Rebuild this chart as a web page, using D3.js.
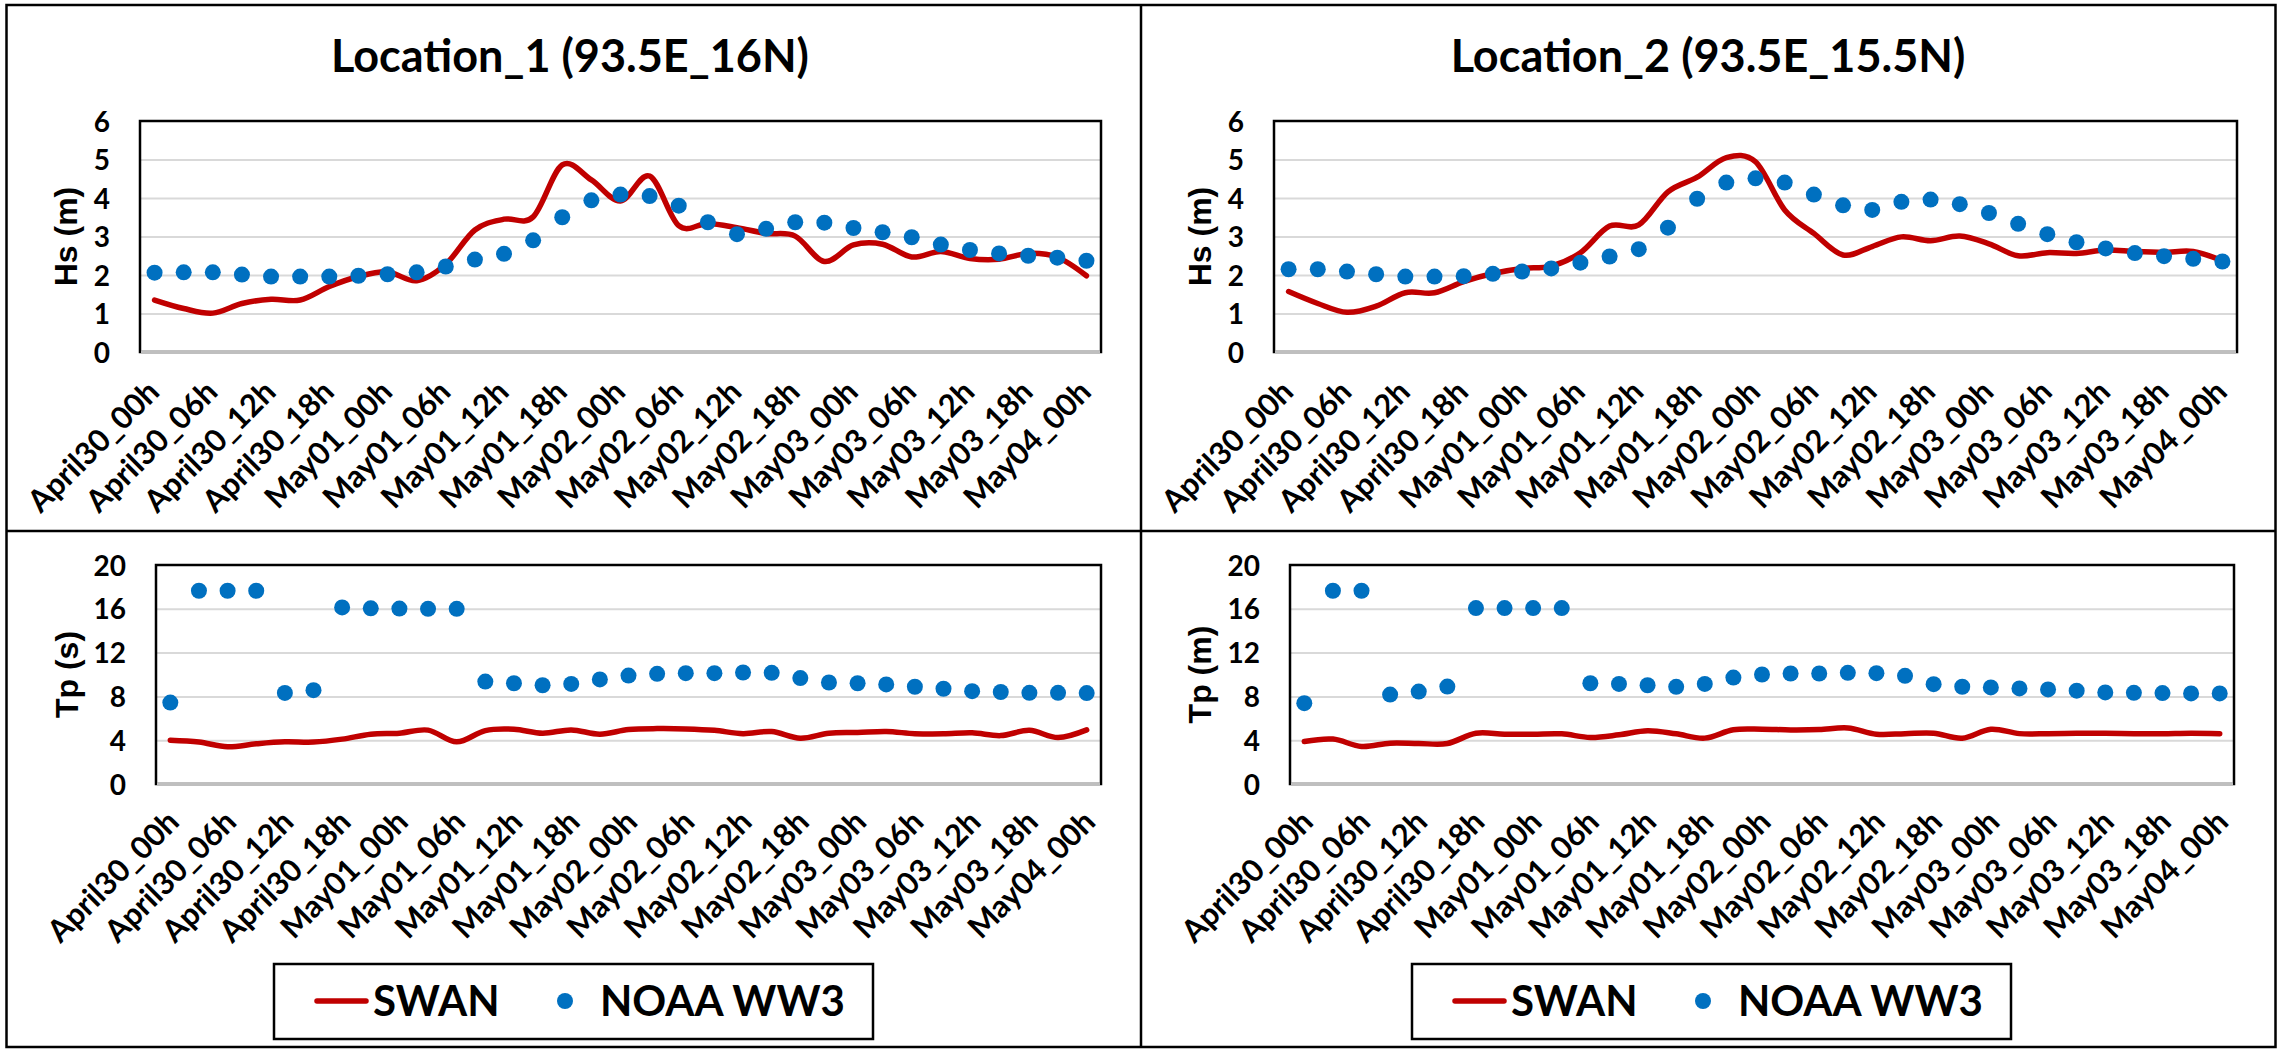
<!DOCTYPE html>
<html>
<head>
<meta charset="utf-8">
<script src="https://cdn.jsdelivr.net/npm/d3@7"></script>
<style>
	body { margin: 0; background: #fff; }
	svg { display: block; }
	.cal { font-family: Lato, "Noto Sans", sans-serif; font-weight: 700; fill: #000; }
	.ari { font-family: "Liberation Sans", Arial, sans-serif; font-weight: 700; fill: #000; }
</style>
</head>
<body>
<svg id="chart" width="2277" height="1049"></svg>
<script>
// 3-hourly time steps (categories)
var times = [
	"April30_00h","April30_03h","April30_06h","April30_09h","April30_12h","April30_15h","April30_18h","April30_21h",
	"May01_00h","May01_03h","May01_06h","May01_09h","May01_12h","May01_15h","May01_18h","May01_21h",
	"May02_00h","May02_03h","May02_06h","May02_09h","May02_12h","May02_15h","May02_18h","May02_21h",
	"May03_00h","May03_03h","May03_06h","May03_09h","May03_12h","May03_15h","May03_18h","May03_21h",
	"May04_00h"
];
var tickLabels = [
	"April30_00h","April30_06h","April30_12h","April30_18h",
	"May01_00h","May01_06h","May01_12h","May01_18h",
	"May02_00h","May02_06h","May02_12h","May02_18h",
	"May03_00h","May03_06h","May03_12h","May03_18h",
	"May04_00h"
];
var hsTicks = [0, 1, 2, 3, 4, 5, 6];
var tpTicks = [0, 4, 8, 12, 16, 20];
var titles = ["Location_1 (93.5E_16N)", "Location_2 (93.5E_15.5N)"];
var hsTitles = ["Hs (m)", "Hs (m)"];
var tpTitles = ["Tp (s)", "Tp (m)"];
var seriesNames = ["SWAN", "NOAA WW3"];

// Location 1
var hs1Swan = [1.35,1.13,1.01,1.26,1.37,1.35,1.70,1.96,2.08,1.85,2.28,3.17,3.45,3.51,4.86,4.47,3.92,4.57,3.28,3.34,3.23,3.08,3.01,2.35,2.78,2.80,2.47,2.61,2.43,2.41,2.56,2.46,1.98];
var hs1Noaa = [2.06,2.07,2.07,2.01,1.96,1.96,1.96,1.98,2.02,2.07,2.22,2.40,2.55,2.90,3.50,3.94,4.09,4.05,3.80,3.37,3.06,3.20,3.37,3.36,3.22,3.11,2.98,2.79,2.65,2.56,2.50,2.45,2.37];
var tp1Swan = [4.00,3.83,3.40,3.67,3.85,3.83,4.10,4.55,4.64,4.92,3.85,4.88,5.00,4.64,4.94,4.55,4.97,5.06,5.03,4.90,4.60,4.79,4.18,4.64,4.70,4.79,4.60,4.58,4.67,4.42,4.90,4.24,4.94];
var tp1Noaa = [7.44,17.65,17.65,17.65,8.32,8.57,16.13,16.04,16.02,16.00,16.00,9.35,9.20,9.02,9.14,9.55,9.90,10.06,10.12,10.12,10.18,10.15,9.67,9.27,9.20,9.09,8.88,8.70,8.48,8.40,8.33,8.33,8.30];

// Location 2
var hs2Swan = [1.57,1.26,1.03,1.19,1.54,1.54,1.83,2.04,2.17,2.23,2.58,3.27,3.30,4.16,4.54,5.05,4.94,3.69,3.08,2.52,2.74,2.99,2.89,3.01,2.81,2.50,2.58,2.56,2.65,2.61,2.59,2.61,2.37];
var hs2Noaa = [2.15,2.15,2.09,2.02,1.96,1.96,1.97,2.03,2.09,2.17,2.32,2.48,2.67,3.23,3.98,4.40,4.51,4.40,4.09,3.81,3.69,3.90,3.96,3.84,3.61,3.33,3.06,2.85,2.69,2.57,2.49,2.42,2.35];
var tp2Swan = [3.88,4.10,3.43,3.73,3.70,3.70,4.64,4.55,4.55,4.58,4.25,4.49,4.86,4.58,4.19,4.95,5.00,4.94,4.97,5.12,4.55,4.60,4.64,4.18,5.00,4.60,4.60,4.64,4.64,4.60,4.60,4.64,4.60];
var tp2Noaa = [7.38,17.65,17.65,8.17,8.44,8.90,16.07,16.07,16.07,16.07,9.20,9.14,9.02,8.87,9.14,9.72,10.00,10.09,10.09,10.15,10.12,9.88,9.12,8.88,8.82,8.73,8.64,8.52,8.36,8.33,8.30,8.27,8.27];

(function(){
	var swanColor = "#C00000", noaaColor = "#0070C0";
	var svg = d3.select("#chart");

	var plots = [
		{ box: {left: 140, right: 1101, top: 121, bottom: 352}, ticks: hsTicks, yTitle: hsTitles[0], titleX: 65, lblShift: [6, 42], swan: hs1Swan, noaa: hs1Noaa },
		{ box: {left: 1274, right: 2237, top: 121, bottom: 352}, ticks: hsTicks, yTitle: hsTitles[1], titleX: 1199, lblShift: [6, 42], swan: hs2Swan, noaa: hs2Noaa },
		{ box: {left: 156, right: 1101, top: 565, bottom: 784}, ticks: tpTicks, yTitle: tpTitles[0], titleX: 66, lblShift: [10, 40], swan: tp1Swan, noaa: tp1Noaa },
		{ box: {left: 1290, right: 2234, top: 565, bottom: 784}, ticks: tpTicks, yTitle: tpTitles[1], titleX: 1199, lblShift: [10, 40], swan: tp2Swan, noaa: tp2Noaa }
	];
	var panelCenters = [570, 1708];

	function drawPlot(p) {
		var b = p.box;
		var g = svg.append("g");
		var x = d3.scalePoint().domain(times).range([b.left, b.right]).padding(0.5);
		var y = d3.scaleLinear().domain([0, d3.max(p.ticks)]).range([b.bottom, b.top]);

		// gridlines
		var grid = g.append("g")
			.attr("transform", "translate(" + b.left + ",0)")
			.call(d3.axisLeft(y).tickValues(p.ticks.slice(1, -1)).tickSize(-(b.right - b.left)).tickFormat(""));
		grid.select(".domain").remove();
		grid.selectAll("line").attr("stroke", "#D9D9D9").attr("stroke-width", 2);

		// frame
		g.append("rect")
			.attr("x", b.left).attr("y", b.top)
			.attr("width", b.right - b.left).attr("height", b.bottom - b.top)
			.attr("fill", "none").attr("stroke", "#000").attr("stroke-width", 2.5);
		g.append("line")
			.attr("x1", b.left + 1).attr("x2", b.right - 1)
			.attr("y1", b.bottom).attr("y2", b.bottom)
			.attr("stroke", "#BFBFBF").attr("stroke-width", 3);

		// y axis labels
		var ya = g.append("g")
			.attr("transform", "translate(" + b.left + ",0)")
			.call(d3.axisLeft(y).tickValues(p.ticks).tickFormat(d3.format("d")).tickSize(0).tickPadding(30));
		ya.select(".domain").remove();
		ya.selectAll("text").attr("class", "cal").style("font-size", "28px").attr("dy", "0.36em");

		// x axis labels
		var xa = g.append("g")
			.attr("transform", "translate(0," + b.bottom + ")")
			.call(d3.axisBottom(x).tickValues(tickLabels).tickSize(0));
		xa.select(".domain").remove();
		xa.selectAll("text")
			.attr("class", "cal")
			.style("font-size", "31px")
			.attr("text-anchor", "end")
			.attr("x", 0).attr("y", 0).attr("dy", 0)
			.attr("transform", "translate(" + p.lblShift[0] + "," + p.lblShift[1] + ") rotate(-45)");

		// y axis title
		g.append("text")
			.attr("class", "ari")
			.style("font-size", "32px")
			.attr("text-anchor", "middle")
			.attr("dy", "0.36em")
			.attr("transform", "translate(" + p.titleX + "," + ((b.top + b.bottom) / 2) + ") rotate(-90)")
			.text(p.yTitle);

		// SWAN line
		var line = d3.line()
			.x(function(d, i) { return x(times[i]); })
			.y(function(d) { return y(d); })
			.curve(d3.curveCatmullRom.alpha(0));
		g.append("path")
			.datum(p.swan)
			.attr("d", line)
			.attr("fill", "none")
			.attr("stroke", swanColor)
			.attr("stroke-width", 5.5)
			.attr("stroke-linejoin", "round")
			.attr("stroke-linecap", "round");

		// NOAA dots
		g.selectAll("circle.noaa")
			.data(p.noaa)
			.enter().append("circle")
			.attr("class", "noaa")
			.attr("cx", function(d, i) { return x(times[i]); })
			.attr("cy", function(d) { return y(d); })
			.attr("r", 8)
			.attr("fill", noaaColor);
	}

	function drawLegend(cx) {
		var g = svg.append("g").attr("transform", "translate(" + cx + ",0)");
		g.append("rect")
			.attr("x", -296).attr("y", 964).attr("width", 599).attr("height", 75)
			.attr("fill", "#fff").attr("stroke", "#000").attr("stroke-width", 2.5);
		g.append("line")
			.attr("x1", -253).attr("x2", -204).attr("y1", 1001).attr("y2", 1001)
			.attr("stroke", swanColor).attr("stroke-width", 5.5).attr("stroke-linecap", "round");
		g.append("text").attr("class", "cal").style("font-size", "42px")
			.attr("x", -197).attr("y", 1016).text(seriesNames[0]);
		g.append("circle").attr("cx", -5).attr("cy", 1001).attr("r", 8).attr("fill", noaaColor);
		g.append("text").attr("class", "cal").style("font-size", "42px")
			.attr("x", 30).attr("y", 1016).text(seriesNames[1]);
	}

	// panel borders
	svg.append("rect")
		.attr("x", 6.5).attr("y", 5).attr("width", 2269).attr("height", 1042)
		.attr("fill", "none").attr("stroke", "#000").attr("stroke-width", 2.5);
	svg.append("line").attr("x1", 1141).attr("x2", 1141).attr("y1", 5).attr("y2", 1047)
		.attr("stroke", "#000").attr("stroke-width", 2.5);
	svg.append("line").attr("x1", 6.5).attr("x2", 2275.5).attr("y1", 531).attr("y2", 531)
		.attr("stroke", "#000").attr("stroke-width", 2.5);

	// titles
	panelCenters.forEach(function(cx, i) {
		svg.append("text").attr("class", "cal").style("font-size", "45px")
			.attr("text-anchor", "middle").attr("x", cx).attr("y", 72).text(titles[i]);
	});

	plots.forEach(drawPlot);
	panelCenters.forEach(drawLegend);
})();
</script>
</body>
</html>
